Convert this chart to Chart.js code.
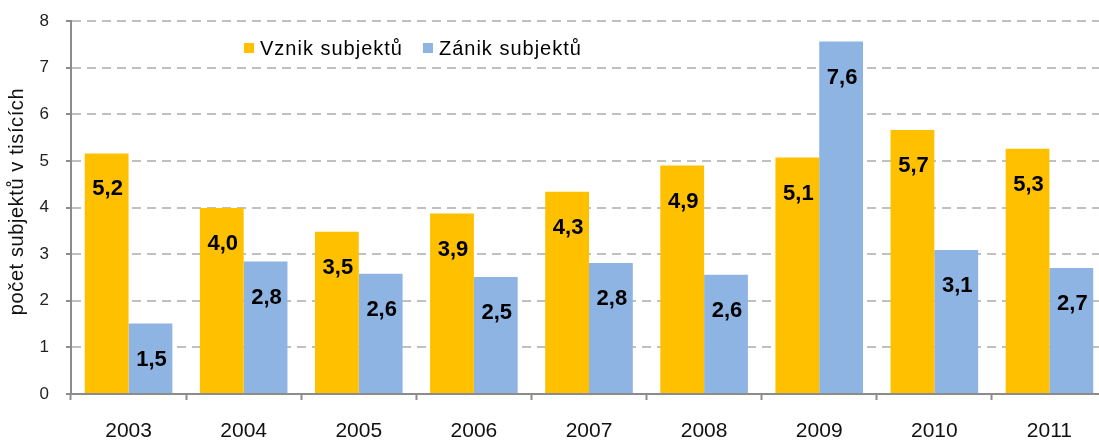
<!DOCTYPE html>
<html><head><meta charset="utf-8">
<script src="https://cdn.jsdelivr.net/npm/chart.js@4.4.0/dist/chart.umd.min.js"></script>
<style>
html,body{margin:0;padding:0;overflow:hidden;background:#fff}
#wrap{width:1112px;height:440px;position:relative}
</style>
</head><body>
<div id="wrap"><canvas id="c"></canvas></div>
<script>
// ---- data ----
const years = ['2003','2004','2005','2006','2007','2008','2009','2010','2011'];
const vznik = [5.16, 3.99, 3.48, 3.87, 4.34, 4.90, 5.07, 5.66, 5.26];
const zanik = [1.51, 2.84, 2.58, 2.51, 2.81, 2.56, 7.56, 3.09, 2.70];
const seriesNames = ['Vznik subjektů', 'Zánik subjektů'];
const axisTitle = 'počet subjektů v tisících';
const yMin = 0, yMax = 8, yStep = 1;

const FONT = '"Liberation Sans", Arial, sans-serif';
const fmt = v => v.toFixed(1).replace('.', ',');

const barLabels = {
  id: 'barLabels',
  afterDatasetsDraw(chart) {
    const ctx = chart.ctx;
    ctx.save();
    ctx.font = 'bold 22px ' + FONT;
    ctx.fillStyle = '#000';
    ctx.textAlign = 'center';
    ctx.textBaseline = 'middle';
    chart.data.datasets.forEach((ds, di) => {
      chart.getDatasetMeta(di).data.forEach((bar, i) => {
        ctx.fillText(fmt(ds.data[i]), bar.x + 1, bar.y + 36);
      });
    });
    ctx.restore();
  }
};

const customLegend = {
  id: 'customLegend',
  afterDraw(chart) {
    const ctx = chart.ctx;
    ctx.save();
    ctx.font = '20px ' + FONT;
    try { ctx.letterSpacing = '1px'; } catch (e) {}
    ctx.textBaseline = 'middle';
    ctx.textAlign = 'left';
    let x = 244;
    const y = 49;
    chart.data.datasets.forEach(ds => {
      ctx.fillStyle = ds.backgroundColor;
      ctx.fillRect(x, y - 6, 10, 10);
      ctx.fillStyle = '#000';
      ctx.fillText(ds.label, x + 16, y);
      x += 16 + ctx.measureText(ds.label).width + 20;
    });
    ctx.restore();
  }
};

const yTitle = {
  id: 'yTitle',
  afterDraw(chart) {
    const ctx = chart.ctx;
    const a = chart.chartArea;
    ctx.save();
    ctx.translate(17, (a.top + a.bottom) / 2 - 6);
    ctx.rotate(-Math.PI / 2);
    ctx.font = '20px ' + FONT;
    try { ctx.letterSpacing = '0.6px'; } catch (e) {}
    ctx.fillStyle = '#111';
    ctx.textAlign = 'center';
    ctx.textBaseline = 'middle';
    ctx.fillText(axisTitle, 0, 0);
    ctx.restore();
  }
};

new Chart(document.getElementById('c'), {
  type: 'bar',
  data: {
    labels: years,
    datasets: [
      { label: seriesNames[0], data: vznik, backgroundColor: '#FFC000' },
      { label: seriesNames[1], data: zanik, backgroundColor: '#8EB4E3' }
    ]
  },
  options: {
    responsive: true,
    maintainAspectRatio: false,
    animation: false,
    devicePixelRatio: 1,
    layout: { padding: { top: 21, right: 5, bottom: 0, left: 0 } },
    datasets: { bar: { categoryPercentage: 0.761, barPercentage: 1.0 } },
    plugins: { legend: { display: false }, tooltip: { enabled: false } },
    scales: {
      x: {
        grid: { display: true, drawOnChartArea: false, drawTicks: true, offset: true,
                tickLength: 6, tickColor: '#8c8c8c', tickWidth: 2 },
        border: { display: true, color: '#8c8c8c', width: 2 },
        ticks: { font: { family: FONT, size: 21 }, color: '#111', padding: 19, maxRotation: 0 },
        afterFit(s) { s.height = 46; }
      },
      y: {
        min: yMin, max: yMax,
        ticks: { stepSize: yStep, font: { family: FONT, size: 17 }, color: '#222', padding: 17 },
        grid: { color: '#c0c0c0', lineWidth: 2, drawTicks: true, tickLength: 5,
                tickColor: '#8c8c8c', tickWidth: 2, tickBorderDash: [] },
        border: { display: true, color: '#8c8c8c', width: 2, dash: [9, 6] },
        title: { display: false },
        afterFit(s) { s.width = 71; s.paddingTop = 10; s.paddingBottom = 10; }
      }
    }
  },
  plugins: [barLabels, customLegend, yTitle]
});
</script>
</body></html>
